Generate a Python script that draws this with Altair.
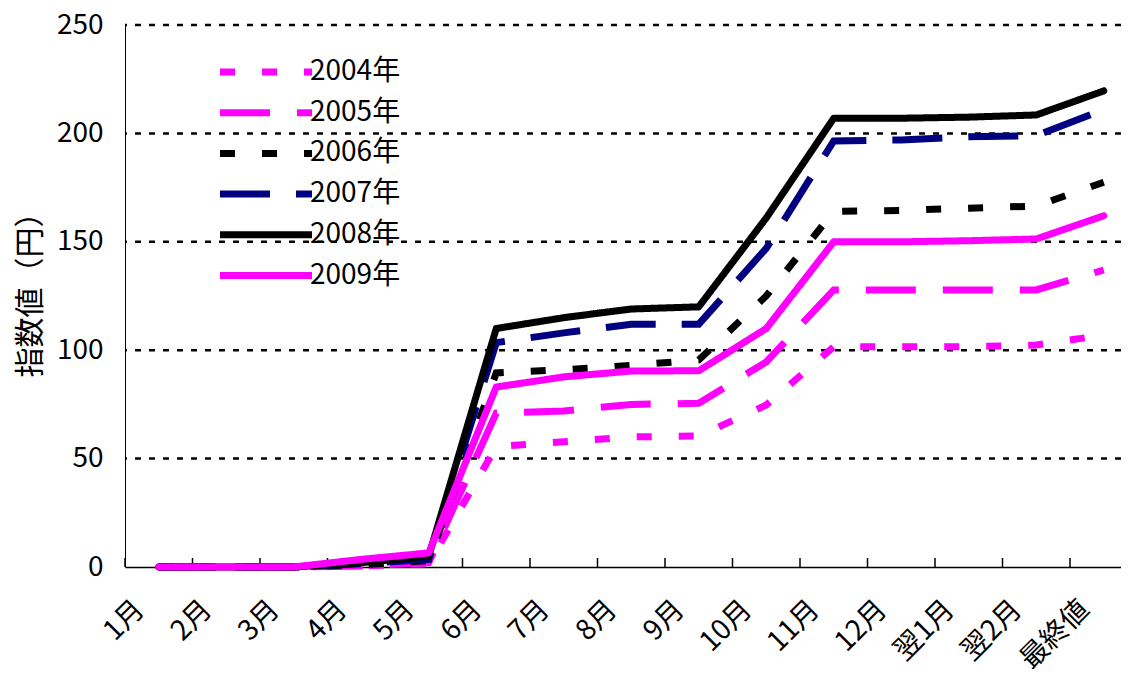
import altair as alt
import pandas as pd

FONT = "Noto Sans CJK JP"

months = ["1月", "2月", "3月", "4月", "5月", "6月", "7月", "8月", "9月",
          "10月", "11月", "12月", "翌1月", "翌2月", "最終値"]
years = ["2004年", "2005年", "2006年", "2007年", "2008年", "2009年"]

v2004 = [0, 0, 0, 0.5, 1.5, 55.5, 57.8, 60.0, 60.4, 74.7, 101.6, 101.6, 101.6, 102.4, 107.0]
v2005 = [0, 0, 0, 0.5, 2.0, 71.0, 72.0, 75.0, 75.5, 94.6, 127.8, 127.8, 127.8, 127.8, 137.0]
v2006 = [0, 0, 0, 1.0, 3.0, 89.5, 91.0, 93.0, 95.5, 125.0, 164.0, 164.5, 165.5, 166.5, 177.5]
v2007 = [0, 0, 0, 1.5, 3.5, 103.5, 108.0, 112.0, 112.0, 147.0, 196.5, 197.0, 198.4, 199.0, 211.0]
v2008 = [0, 0, 0, 2.0, 5.0, 110.0, 115.0, 119.0, 120.0, 161.0, 207.0, 207.0, 207.5, 208.5, 219.6]
v2009 = [0, 0, 0, 3.5, 6.5, 83.0, 87.7, 90.4, 90.5, 110.0, 150.0, 150.0, 150.5, 151.3, 162.0]
series = [v2004, v2005, v2006, v2007, v2008, v2009]

y_ticks = [0, 50, 100, 150, 200, 250]
grid_values = [50, 100, 150, 200, 250]

colors = ["#FF00FF", "#FF00FF", "#000000", "#000080", "#000000", "#FF00FF"]
dashes = [[15, 27], [50, 27], [15, 27], [50, 26], [1, 0], [1, 0]]
widths = [7, 7, 7, 7, 7.5, 4]

STEP = 67.5
PLOT_W = 996
PLOT_H = 542

rows = []
for yr, vals in zip(years, series):
    for m, v in zip(months, vals):
        rows.append({"month": m, "year": yr, "value": v})
df = pd.DataFrame(rows)

xenc = alt.X(
    "month:N",
    sort=months,
    scale=alt.Scale(type="point", domain=months, range=[0, STEP * len(months)], padding=0.5),
    axis=alt.Axis(
        title=None, labelAngle=-45, labelAlign="right", labelBaseline="middle",
        labelFont=FONT, labelFontSize=28, labelColor="black",
        labelPadding=38, labelOffset=-19, labelOverlap=False, labelBound=False,
        ticks=False, grid=False, domainColor="black", domainWidth=1.5,
    ),
)
yenc = alt.Y(
    "value:Q",
    scale=alt.Scale(domain=[0, 250], nice=False, zero=True),
    axis=alt.Axis(
        values=y_ticks, title="指数値（円）", titleFont=FONT, titleFontSize=30,
        titleFontWeight="normal", titleColor="black", titleAngle=270,
        titleAlign="center", titleBaseline="middle", titleX=-95, titleY=262,
        labelFont=FONT, labelFontSize=28, labelColor="black", labelPadding=22,
        ticks=False, grid=False, domainColor="black", domainWidth=1,
    ),
)

legend = alt.Legend(
    title=None, orient="none", legendX=126, legendY=32,
    symbolType="M-4,0H4", symbolSize=529,
    labelFont=FONT, labelFontSize=28, labelColor="black", labelOffset=29,
    rowPadding=11.7, padding=0,
)
color = alt.Color("year:N", scale=alt.Scale(domain=years, range=colors), legend=legend)
sdash = alt.StrokeDash("year:N", scale=alt.Scale(domain=years, range=dashes), legend=legend)
swidth = alt.StrokeWidth("year:N", scale=alt.Scale(domain=years, range=widths), legend=legend)

grid = alt.Chart(pd.DataFrame({"value": grid_values})).mark_rule(
    color="black", strokeWidth=2.5, strokeDash=[6, 8]
).encode(y=yenc)

tick_layer = alt.Chart(pd.DataFrame({"month": months})).mark_rule(
    color="black", strokeWidth=1.5, xOffset=-STEP / 2
).encode(x=xenc, y=alt.value(PLOT_H), y2=alt.value(PLOT_H - 9))

dashed = alt.Chart(df[df["year"].isin(years[:4])]).mark_line(strokeCap="butt").encode(
    x=xenc, y=yenc, color=color, strokeDash=sdash, strokeWidth=swidth,
    detail="year:N",
)
solid = alt.Chart(df[df["year"].isin(years[4:])]).mark_line(strokeCap="round", strokeJoin="round").encode(
    x=xenc, y=yenc, color=color, strokeDash=sdash, strokeWidth=swidth,
    detail="year:N",
)

chart = alt.layer(grid, tick_layer, dashed, solid).properties(
    width=PLOT_W, height=PLOT_H,
    autosize=alt.AutoSizeParams(type="none"),
    padding={"left": 117, "top": 17, "right": 0, "bottom": 102},
    background="white",
).configure_view(stroke=None)

chart.save("out.html", embed_options={"renderer": "svg", "actions": False})
